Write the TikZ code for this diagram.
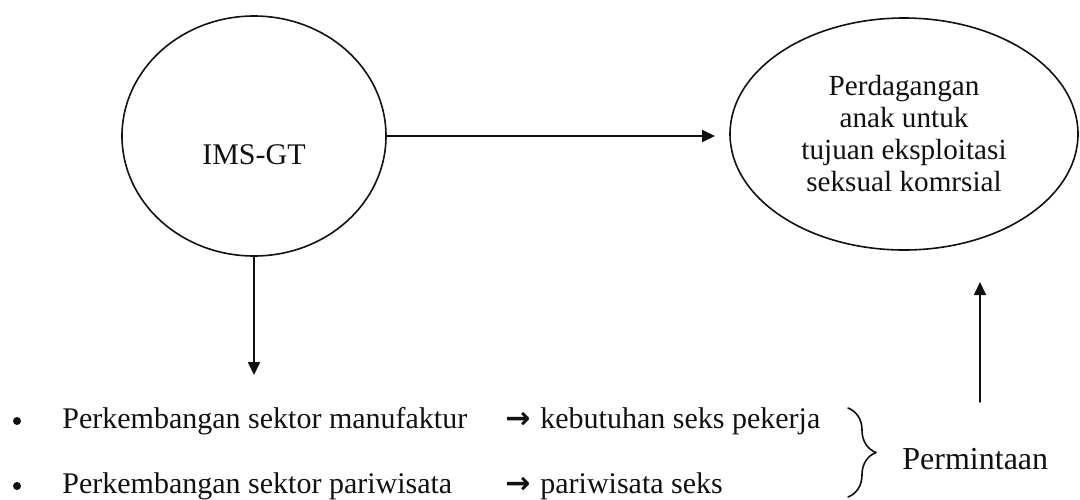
\documentclass[tikz,border=0pt]{standalone}
\usepackage{fontspec}
\setmainfont{Liberation Serif}
\newfontfamily\arrowfont{DejaVu Sans}
\usepackage{tikz}
\usetikzlibrary{arrows.meta,decorations.pathreplacing,positioning,shapes.geometric}
\definecolor{trInk}{HTML}{111111}
\tikzset{
  tr diagram/.style={font=\fontsize{15}{18}\selectfont, text=trInk,
    line cap=round, line join=round},
  tr circle/.style={ellipse, draw=trInk, line width=0.8pt, inner sep=0pt},
  tr arrow/.style={-{Triangle[length=6.5pt,width=6pt]}, draw=trInk, line width=0.9pt},
  tr text/.style={anchor=base west, inner sep=0pt},
  tr dot/.style={circle, fill=trInk, inner sep=0pt, minimum size=4pt},
  tr brace/.style={decorate, decoration={brace, amplitude=14pt},
    draw=trInk, line width=0.8pt}
}

\begin{document}
\begin{tikzpicture}[tr diagram,x=0.5pt,y=-0.5pt]
\useasboundingbox (0,0) rectangle (1080,499);
\node[tr circle,minimum width=132pt,minimum height=120pt] (ims) at (254,136) {};
\node (imsText) at (254,155) {IMS-GT};
\node[tr circle,minimum width=174pt,minimum height=116pt,align=center,
  font=\fontsize{14.6}{16}\selectfont] (trade) at (904,134)
  {Perdagangan\\anak untuk\\tujuan eksploitasi\\seksual komrsial};
\coordinate (tradeTip) at (715,136);
\coordinate (listTop) at (254,375);
\draw[tr arrow] (ims.east) -- (tradeTip);
\draw[tr arrow] (ims.south) -- (listTop);
% the two causes
\node[tr dot] (dotA) at (17,421) {};
\node[tr text] (sectorA) at (62,428) {Perkembangan sektor manufaktur};
\node[tr text] (arrowA) at (505,428) {\arrowfont\bfseries →};
\node[tr text] (needA) at (540,428) {kebutuhan seks pekerja};
\node[tr dot] (dotB) at (17,486) {};
\node[tr text] (sectorB) at (62,493) {Perkembangan sektor pariwisata};
\node[tr text] (arrowB) at (505,493) {\arrowfont\bfseries →};
\node[tr text] (needB) at (540,493) {pariwisata seks};
\coordinate (braceTop) at (848,408);
\coordinate (braceBot) at (848,497);
\draw[tr brace] (braceTop) -- (braceBot);
\node[anchor=west,inner sep=0pt,font=\fontsize{16}{19}\selectfont] (demand) at (902,459) {Permintaan};
\coordinate (demandUp) at (980,402);
\coordinate (tradeIn) at (980,282);
\draw[tr arrow] (demandUp) -- (tradeIn);
\end{tikzpicture}
\end{document}
